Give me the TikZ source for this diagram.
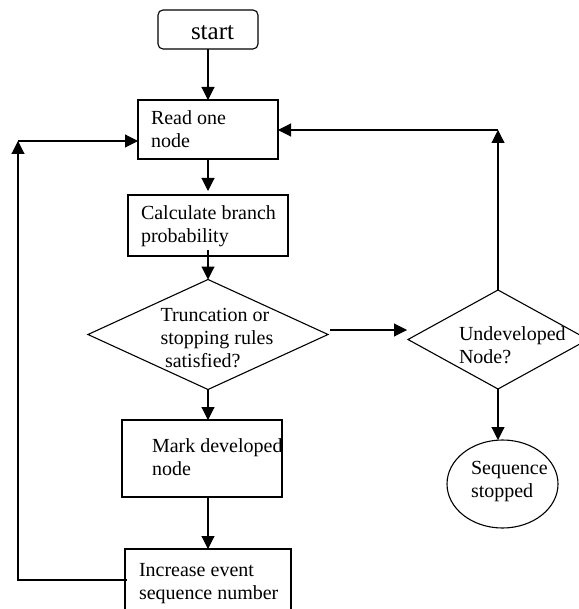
\documentclass[tikz,border=0pt]{standalone}
\usepackage{fontspec}
\setmainfont{Liberation Serif}
\usetikzlibrary{shapes.geometric,arrows.meta,calc}
\begin{document}
\begin{tikzpicture}[x=1pt,y=-1pt,
  line width=1.1pt,
  every node/.style={inner sep=0pt, outer sep=0pt},
  box/.style={draw, rectangle},
  startbox/.style={draw, rectangle, rounded corners=5pt},
  decision/.style={draw, diamond},
  terminal/.style={draw, ellipse},
  % multi-line texts are placed by the baseline of their last line
  body text/.style={font=\fontsize{20}{23}\selectfont, align=left, anchor=base west},
  arr/.style={-{Triangle[length=13pt,width=13pt]}}
]
\useasboundingbox (0,0) rectangle (578,609);

% shapes
\node[startbox, minimum width=100pt, minimum height=39pt] (start) at (208,29.5) {};
\node[box, minimum width=140pt, minimum height=59pt] (read) at (208,129.5) {};
\node[box, minimum width=160pt, minimum height=61pt] (calc) at (208,225.5) {};
\node[decision, minimum width=240pt, minimum height=110pt] (trunc) at (208,334.5) {};
\node[decision, minimum width=180pt, minimum height=99pt] (undev) at (498,339.5) {};
\node[box, minimum width=160pt, minimum height=77pt] (mark) at (202,458.5) {};
\node[box, minimum width=166pt, minimum height=66pt] (incr) at (208,582) {};
\node[terminal, minimum width=111pt, minimum height=88pt] (stop) at (502.5,484) {};

% texts
\node[font=\fontsize{25}{28}\selectfont, anchor=base west] (startt) at (191,40) {start};
\node[body text] (readt) at (151,148) {Read one\\node};
\node[body text] (calct) at (141,243) {Calculate branch\\probability};
\node[body text] (trunct) at (160.5,367) {Truncation or\\stopping rules\\\hspace*{4.5pt}satisfied?};
\node[body text] (undevt) at (459,363) {Undeveloped\\Node?};
\node[body text] (markt) at (152,475) {Mark developed\\node};
\node[body text] (incrt) at (139,599) {Increase event\\sequence number};
\node[body text] (stopt) at (471,497) {Sequence\\stopped};

% corner points of the loops
\coordinate (ur) at (498,130);
\coordinate (ul) at (18,141);
\coordinate (bl) at (18,580);

% main flow
\draw[arr] (start.south) -- (read.north);
\draw[arr, shorten >=4pt] (read.south) -- (calc.north);
\draw[arr] ($(calc.south)+(0,-6)$) -- (trunc.north);
\draw[arr] (trunc.south) -- (trunc.south |- mark.north);
\draw[arr] (mark.south -| trunc.south) -- (incr.north);

% branch to the undeveloped-node test
\draw[arr] ($(trunc.east)+(2,-4.5)$) -- ($(undev.west)+(-1,-9.5)$);
\draw[arr] (undev.south) -- (undev.south |- stop.north);

% return paths to reading a node
\draw[arr] (undev.north) -- (ur);
\draw[arr] (ur) -- (read.east |- ur);
\draw[arr] ($(incr.west |- bl)+(2,0)$) -- (bl) -- (ul);
\draw[arr] (ul) -- (read.west |- ul);
\end{tikzpicture}
\end{document}
